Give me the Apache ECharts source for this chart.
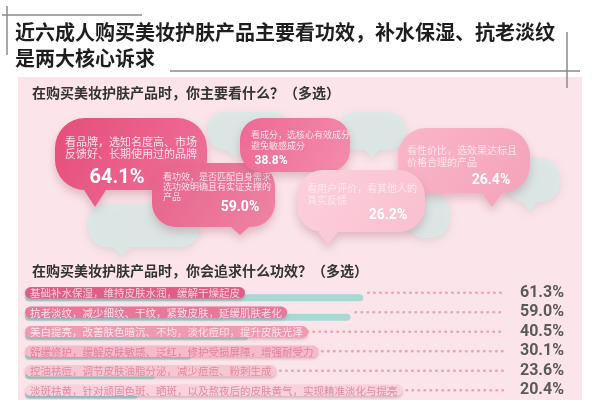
<!DOCTYPE html>
<html>
<head>
<meta charset="utf-8">
<title>美妆护肤产品购买关注点</title>
<script src="https://cdn.jsdelivr.net/npm/echarts@6/dist/echarts.min.js"></script>
<style>
  html, body { margin: 0; padding: 0; background: #fff; }
  #main { width: 600px; height: 400px; }
</style>
</head>
<body>
<div id="main"></div>
<script>
  // 标题与问题
  var titleLines = ['近六成人购买美妆护肤产品主要看功效，补水保湿、抗老淡纹', '是两大核心诉求'];
  var question1 = '在购买美妆护肤产品时，你主要看什么？（多选）';
  var question2 = '在购买美妆护肤产品时，你会追求什么功效？（多选）';

  // 上半部分：主要看什么（气泡）
  var bubbleTexts = [
    ['看品牌，选知名度高、市场', '反馈好、长期使用过的品牌'],
    ['看功效，是否匹配自身需求', '选功效明确且有实证支撑的', '产品'],
    ['看成分，选核心有效成分', '避免敏感成分'],
    ['看性价比，选效果达标且', '价格合理的产品'],
    ['看用户评价，看其他人的', '真实反馈']
  ];
  var bubbleValues = [64.1, 59.0, 38.8, 26.4, 26.2];

  // 下半部分：追求什么功效（条形）
  var effectNames = [
    '基础补水保湿，维持皮肤水润，缓解干燥起皮',
    '抗老淡纹，减少细纹、干纹，紧致皮肤，延缓肌肤老化',
    '美白提亮，改善肤色暗沉、不均，淡化痘印，提升皮肤光泽',
    '舒缓修护，缓解皮肤敏感、泛红，修护受损屏障，增强耐受力',
    '控油祛痘，调节皮肤油脂分泌，减少痘痘、粉刺生成',
    '淡斑祛黄，针对顽固色斑、晒斑，以及熬夜后的皮肤黄气，实现精准淡化与提亮'
  ];
  var effectValues = [61.3, 59.0, 40.5, 30.1, 23.6, 20.4];

  // ---- 版式（位置、尺寸、样式） ----
  var CJK = '"Noto Sans CJK SC", sans-serif';
  var X_MAX = 87;

  var bubbleLayout = [
    {x: 55, y: 118, w: 152, h: 72, r: 30, tail: 95, tip: 207, tw: 22, z: 4,
      c1: '#e54d7a', c2: '#f0739b', fs: 11, lh: 12, tx: 131, ta: 'center', ty: 142, vx: 117, vy: 178, vs: 20},
    {x: 152, y: 163, w: 123, h: 64, r: 24, tail: 240, tip: 235, tw: 18, z: 5,
      c1: '#e7628b', c2: '#ef84a4', fs: 9, lh: 10, tx: 163, ta: 'left', ty: 177, vx: 240, vy: 207, vs: 14},
    {x: 240, y: 118, w: 110, h: 54, r: 22, tail: 0, tip: 0, tw: 0, z: 2,
      c1: '#ee6893', c2: '#f38dac', fs: 9, lh: 11, tx: 251, ta: 'left', ty: 135, vx: 271, vy: 161, vs: 12},
    {x: 398, y: 128, w: 132, h: 65, r: 28, tail: 492, tip: 207, tw: 20, z: 1,
      c1: '#f9b6c9', c2: '#f5a2b9', fs: 10, lh: 12, tx: 407, ta: 'left', ty: 150, vx: 491, vy: 180, vs: 14},
    {x: 297, y: 170, w: 128, h: 62, r: 26, tail: 328, tip: 245, tw: 20, z: 3,
      c1: '#fcd0dc', c2: '#f9bfcf', fs: 10, lh: 12, tx: 307, ta: 'left', ty: 188, vx: 388, vy: 215, vs: 14}
  ];

  var cloudLayout = [
    {x: 207, y: 112, w: 83, h: 38, r: 18, tail: 235, tip: 158, tw: 16},
    {x: 338, y: 112, w: 68, h: 38, r: 18, tail: 372, tip: 158, tw: 14},
    {x: 88, y: 203, w: 112, h: 44, r: 20, tail: 122, tip: 256, tw: 18},
    {x: 505, y: 158, w: 55, h: 44, r: 20, tail: 530, tip: 212, tw: 14},
    {x: 405, y: 192, w: 45, h: 46, r: 20, tail: 0, tip: 0, tw: 0}
  ];

  var pillStyles = [
    {bg: '#df5d87', fg: '#fbd0dd'},
    {bg: '#e8779a', fg: '#fde0e8'},
    {bg: '#f198b2', fg: '#fde6ee'},
    {bg: '#f7bacb', fg: '#e2809c'},
    {bg: '#f8c6d3', fg: '#e3889f'},
    {bg: '#fad1dc', fg: '#df8aa1'}
  ];

  function bubblePath(b) {
    var x = b.x, y = b.y, w = b.w, h = b.h, r = b.r;
    var d = 'M' + (x + r) + ' ' + y + ' L' + (x + w - r) + ' ' + y +
      ' A' + r + ' ' + r + ' 0 0 1 ' + (x + w) + ' ' + (y + r) +
      ' L' + (x + w) + ' ' + (y + h - r) +
      ' A' + r + ' ' + r + ' 0 0 1 ' + (x + w - r) + ' ' + (y + h);
    if (b.tail) {
      d += ' L' + (b.tail + b.tw / 2) + ' ' + (y + h) + ' L' + b.tail + ' ' + b.tip +
        ' L' + (b.tail - b.tw / 2) + ' ' + (y + h);
    }
    d += ' L' + (x + r) + ' ' + (y + h) +
      ' A' + r + ' ' + r + ' 0 0 1 ' + x + ' ' + (y + h - r) +
      ' L' + x + ' ' + (y + r) +
      ' A' + r + ' ' + r + ' 0 0 1 ' + (x + r) + ' ' + y + ' Z';
    return d;
  }

  var rich = {};
  pillStyles.forEach(function (s, i) {
    rich['p' + i] = {
      backgroundColor: s.bg, color: s.fg, fontSize: 10.5, lineHeight: 12,
      fontFamily: CJK, padding: [1, 5, 0, 5], borderRadius: 7,
      shadowColor: 'rgba(120,70,90,0.3)', shadowBlur: 3, shadowOffsetY: 2
    };
  });

  var myChart = echarts.init(document.getElementById('main'), null, {renderer: 'canvas'});

  var option = {
    animation: false,
    backgroundColor: '#ffffff',
    graphic: [
      // 粉色底板
      {type: 'rect', z: -10, shape: {x: 18, y: 77, width: 564, height: 330},
        style: {fill: '#fce5ea'}},
      // 标题装饰线
      {type: 'line', shape: {x1: 2, y1: 15, x2: 142, y2: 15}, style: {stroke: '#8a8a8a', lineWidth: 1.5}},
      {type: 'line', shape: {x1: 7, y1: 6, x2: 7, y2: 55}, style: {stroke: '#8a8a8a', lineWidth: 1.5}},
      {type: 'line', shape: {x1: 170, y1: 71, x2: 580, y2: 71}, style: {stroke: '#8a8a8a', lineWidth: 1.5}},
      {type: 'line', shape: {x1: 567, y1: 32, x2: 567, y2: 88}, style: {stroke: '#8a8a8a', lineWidth: 1.5}},
      // 标题
      {type: 'text', x: 15, y: 32, style: {text: titleLines[0], font: 'bold 20px ' + CJK,
        fill: '#1e1e1e', textVerticalAlign: 'middle'}},
      {type: 'text', x: 15, y: 58, style: {text: titleLines[1], font: 'bold 20px ' + CJK,
        fill: '#1e1e1e', textVerticalAlign: 'middle'}},
      // 两个问题
      {type: 'text', x: 32, y: 93, style: {text: question1, font: 'bold 14px ' + CJK,
        fill: '#333', textVerticalAlign: 'middle'}},
      {type: 'text', x: 32, y: 271, style: {text: question2, font: 'bold 14px ' + CJK,
        fill: '#333', textVerticalAlign: 'middle'}}
    ],
    grid: {left: 25, top: 283, width: 480, height: 117},
    xAxis: {type: 'value', min: 0, max: X_MAX, show: false},
    yAxis: {
      type: 'category',
      data: effectNames,
      inverse: true,
      z: 10,
      axisLine: {show: false},
      axisTick: {show: false},
      splitLine: {show: false},
      axisLabel: {
        inside: true,
        margin: 0,
        formatter: function (val, idx) { return '{p' + idx + '|' + val + '}'; },
        rich: rich
      }
    },
    series: [
      {
        // 背景浅绿色对话框
        type: 'custom',
        coordinateSystem: 'none',
        z: 1,
        silent: true,
        data: cloudLayout.map(function (c, i) { return [i]; }),
        renderItem: function (params) {
          var c = cloudLayout[params.dataIndex];
          return {
            type: 'path',
            shape: {pathData: bubblePath(c)},
            style: {fill: '#d9e9e6', opacity: 0.85, shadowBlur: 8,
              shadowColor: 'rgba(120,140,140,0.25)', shadowOffsetY: 3}
          };
        }
      },
      {
        // 主要看什么：气泡
        type: 'custom',
        coordinateSystem: 'none',
        z: 3,
        silent: true,
        data: bubbleValues.map(function (v, i) { return [i, v]; }),
        renderItem: function (params, api) {
          var i = params.dataIndex;
          var b = bubbleLayout[i];
          var v = api.value(1);
          var children = [{
            type: 'path',
            shape: {pathData: bubblePath(b)},
            style: {
              fill: {type: 'linear', x: 0, y: 0, x2: 1, y2: 1,
                colorStops: [{offset: 0, color: b.c1}, {offset: 1, color: b.c2}]},
              shadowBlur: 10, shadowOffsetY: 5, shadowColor: 'rgba(150,80,100,0.3)'
            }
          }];
          bubbleTexts[i].forEach(function (t, k) {
            children.push({
              type: 'text', x: b.tx, y: b.ty + k * b.lh,
              style: {text: t, font: b.fs + 'px ' + CJK, fill: 'rgba(255,236,242,0.92)',
                textAlign: b.ta, textVerticalAlign: 'middle'}
            });
          });
          children.push({
            type: 'text', x: b.vx, y: b.vy,
            style: {text: v.toFixed(1) + '%', font: 'bold ' + b.vs + 'px Roboto, sans-serif',
              fill: '#ffffff', textAlign: 'center', textVerticalAlign: 'middle'}
          });
          return {type: 'group', z2: b.z, children: children};
        }
      },
      {
        // 追求什么功效：条形 + 点线 + 百分比
        type: 'custom',
        z: 2,
        silent: true,
        data: effectValues.map(function (v, i) { return [v, i]; }),
        encode: {x: 0, y: 1},
        renderItem: function (params, api) {
          var v = api.value(0);
          var cat = api.value(1);
          var p0 = api.coord([0, cat]);
          var p1 = api.coord([v, cat]);
          var pEnd = api.coord([X_MAX, cat]);
          var cy = p0[1];
          return {
            type: 'group',
            children: [
              {type: 'rect', shape: {x: p0[0], y: cy + 1.5, width: p1[0] - p0[0], height: 7, r: 3.5},
                style: {fill: '#a9d8d3'}},
              {type: 'line', shape: {x1: p1[0] + 5, y1: cy, x2: pEnd[0], y2: cy},
                style: {stroke: '#eaa2b6', lineWidth: 2.5, lineDash: [0.5, 5.5], lineCap: 'round'}},
              {type: 'text', x: pEnd[0] + 15, y: cy,
                style: {text: v.toFixed(1) + '%', font: 'bold 16px Roboto, sans-serif',
                  fill: '#5a5a5a', textAlign: 'left', textVerticalAlign: 'middle'}}
            ]
          };
        }
      }
    ]
  };

  myChart.setOption(option);
</script>
</body>
</html>
